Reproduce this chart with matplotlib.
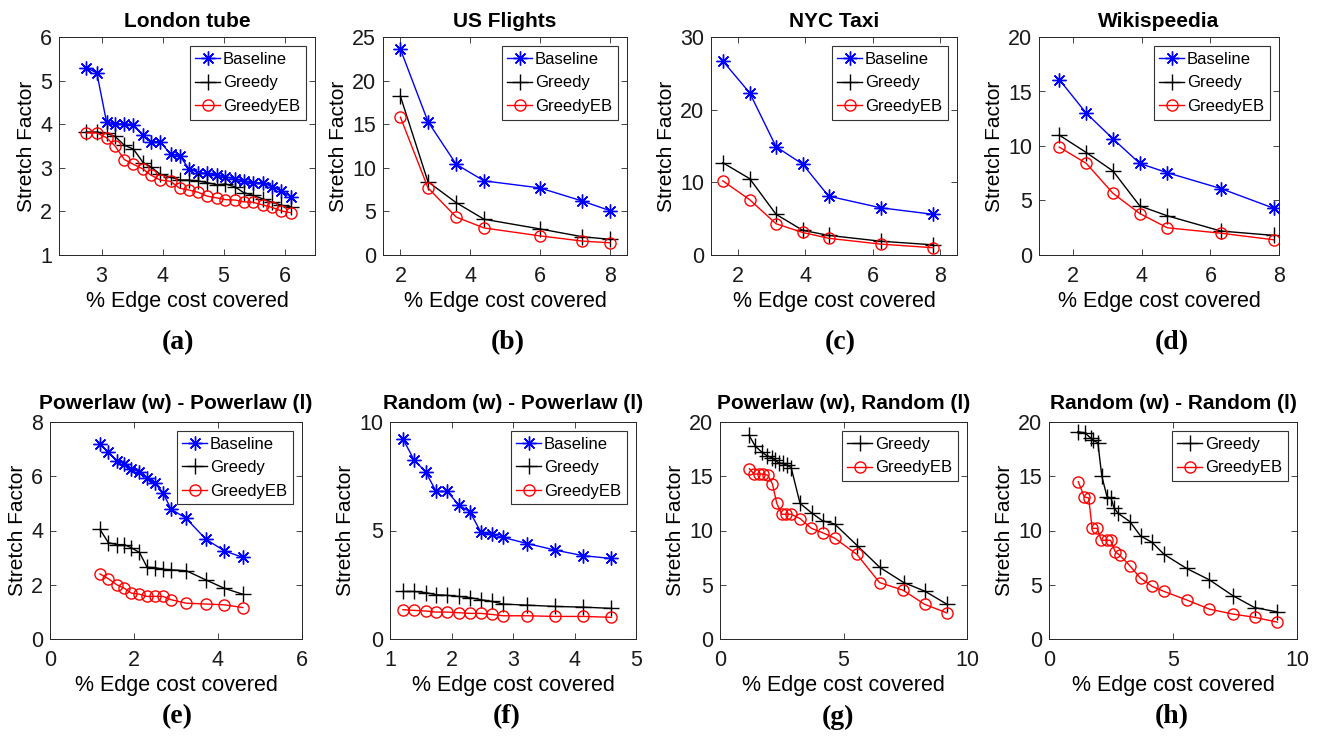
import matplotlib
matplotlib.use("Agg")
import matplotlib.pyplot as plt

plt.rcParams['font.family'] = ['Liberation Sans', 'DejaVu Sans']

# ---------------- data ----------------
titles = ["London tube", "US Flights", "NYC Taxi", "Wikispeedia",
          "Powerlaw (w) - Powerlaw (l)", "Random (w) - Powerlaw (l)",
          "Powerlaw (w), Random (l)", "Random (w) - Random (l)"]
sublabels = ["(a)", "(b)", "(c)", "(d)", "(e)", "(f)", "(g)", "(h)"]
series_names = ["Baseline", "Greedy", "GreedyEB"]

london_x = [2.75, 2.92, 3.08, 3.22, 3.37, 3.52, 3.68, 3.81, 3.96, 4.13, 4.28, 4.43,
            4.58, 4.73, 4.89, 5.03, 5.19, 5.33, 5.48, 5.64, 5.80, 5.95, 6.10]
london_base = [5.29, 5.18, 4.05, 4.01, 4.01, 3.99, 3.75, 3.60, 3.60, 3.31, 3.28, 2.98,
               2.89, 2.87, 2.83, 2.79, 2.75, 2.69, 2.66, 2.66, 2.56, 2.47, 2.34]
london_greedy = [3.82, 3.82, 3.79, 3.72, 3.52, 3.43, 3.12, 3.02, 2.85, 2.79, 2.72, 2.72,
                 2.70, 2.66, 2.61, 2.63, 2.56, 2.43, 2.37, 2.29, 2.21, 2.14, 2.11]
london_eb = [3.80, 3.80, 3.69, 3.50, 3.19, 3.08, 2.97, 2.83, 2.72, 2.69, 2.53, 2.49,
             2.44, 2.35, 2.31, 2.27, 2.26, 2.22, 2.21, 2.15, 2.09, 2.01, 1.97]

flights_x = [2.0, 2.79, 3.60, 4.40, 5.99, 7.21, 8.0]
flights_base = [23.6, 15.3, 10.4, 8.5, 7.7, 6.2, 5.1]
flights_greedy = [18.2, 8.4, 6.0, 4.1, 3.0, 2.1, 1.8]
flights_eb = [15.8, 7.7, 4.35, 3.1, 2.2, 1.6, 1.4]

taxi_x = [1.55, 2.35, 3.13, 3.92, 4.69, 6.23, 7.79]
taxi_base = [26.7, 22.3, 14.9, 12.5, 8.1, 6.5, 5.6]
taxi_greedy = [12.7, 10.5, 5.6, 3.4, 2.7, 1.9, 1.4]
taxi_eb = [10.2, 7.6, 4.3, 3.1, 2.3, 1.5, 1.0]

wiki_x = [1.59, 2.38, 3.16, 3.94, 4.74, 6.30, 7.84]
wiki_base = [16.1, 13.0, 10.65, 8.4, 7.55, 6.1, 4.3]
wiki_greedy = [11.0, 9.4, 7.7, 4.5, 3.6, 2.2, 1.8]
wiki_eb = [9.9, 8.4, 5.65, 3.8, 2.5, 2.0, 1.4]

pp_x = [1.19, 1.39, 1.59, 1.77, 1.94, 2.13, 2.31, 2.50, 2.69, 2.88, 3.24, 3.71, 4.15, 4.59]
pp_base = [7.18, 6.88, 6.56, 6.47, 6.27, 6.16, 5.93, 5.74, 5.39, 4.79, 4.45, 3.68, 3.25, 3.01]
pp_greedy = [4.04, 3.55, 3.48, 3.48, 3.36, 3.19, 2.65, 2.63, 2.57, 2.55, 2.52, 2.18, 1.87, 1.65]
pp_eb = [2.40, 2.22, 2.00, 1.87, 1.69, 1.65, 1.57, 1.57, 1.57, 1.45, 1.32, 1.29, 1.26, 1.16]

rp_x = [1.21, 1.39, 1.58, 1.75, 1.93, 2.12, 2.30, 2.48, 2.66, 2.84, 3.23, 3.68, 4.14, 4.60]
rp_base = [9.22, 8.26, 7.70, 6.80, 6.80, 6.17, 5.86, 4.91, 4.82, 4.68, 4.40, 4.10, 3.84, 3.71]
rp_greedy = [2.19, 2.19, 2.14, 2.04, 2.01, 1.96, 1.91, 1.81, 1.73, 1.61, 1.56, 1.50, 1.47, 1.41]
rp_eb = [1.35, 1.32, 1.29, 1.24, 1.24, 1.21, 1.18, 1.18, 1.13, 1.07, 1.07, 1.04, 1.04, 1.00]

pr_x = [1.17, 1.42, 1.70, 1.90, 2.10, 2.23, 2.39, 2.55, 2.71, 2.88, 3.24, 3.72, 4.15,
        4.64, 5.56, 6.47, 7.44, 8.30, 9.19]
pr_greedy = [18.8, 17.8, 17.2, 16.9, 16.7, 16.5, 16.2, 16.2, 16.0, 15.8, 12.5, 11.6, 10.9,
             10.6, 8.6, 6.6, 5.2, 4.4, 3.2]
pr_x_eb = [1.19, 1.38, 1.57, 1.76, 1.93, 2.12, 2.30, 2.50, 2.69, 2.88, 3.24, 3.70, 4.15,
           4.64, 5.54, 6.46, 7.41, 8.28, 9.19]
pr_eb = [15.7, 15.2, 15.2, 15.2, 15.1, 14.3, 12.5, 11.5, 11.5, 11.5, 11.1, 10.2, 9.8,
         9.3, 7.8, 5.2, 4.5, 3.2, 2.4]

rr_x = [1.16, 1.45, 1.69, 1.78, 1.97, 2.13, 2.34, 2.50, 2.62, 2.78, 3.27, 3.69, 4.16,
        4.64, 5.55, 6.47, 7.41, 8.29, 9.19]
rr_greedy = [19.1, 19.0, 18.5, 18.3, 18.1, 15.0, 13.1, 13.0, 12.1, 11.6, 10.8, 9.5, 8.9,
             7.8, 6.5, 5.45, 4.0, 2.9, 2.5]
rr_x_eb = [1.18, 1.42, 1.60, 1.74, 1.94, 2.11, 2.32, 2.48, 2.67, 2.86, 3.26, 3.69, 4.16,
           4.62, 5.55, 6.47, 7.41, 8.29, 9.21]
rr_eb = [14.5, 13.1, 13.0, 10.2, 10.2, 9.1, 9.1, 9.1, 8.05, 7.7, 6.75, 5.6, 4.85,
         4.4, 3.6, 2.75, 2.3, 2.0, 1.55]

xlims = [(2.3, 6.5), (1.5, 8.5), (1.2, 8.5), (1.0, 8.0), (0, 6), (1, 5), (0, 10), (0, 10)]
ylims = [(1, 6), (0, 25), (0, 30), (0, 20), (0, 8), (0, 10), (0, 20), (0, 20)]
xticks = [[3, 4, 5, 6], [2, 4, 6, 8], [2, 4, 6, 8], [2, 4, 6, 8], [0, 2, 4, 6],
          [1, 2, 3, 4, 5], [0, 5, 10], [0, 5, 10]]
yticks = [[1, 2, 3, 4, 5, 6], [0, 5, 10, 15, 20, 25], [0, 10, 20, 30], [0, 5, 10, 15, 20],
          [0, 2, 4, 6, 8], [0, 5, 10], [0, 5, 10, 15, 20], [0, 5, 10, 15, 20]]

panels = [
    [(london_x, london_base, 0), (london_x, london_greedy, 1), (london_x, london_eb, 2)],
    [(flights_x, flights_base, 0), (flights_x, flights_greedy, 1), (flights_x, flights_eb, 2)],
    [(taxi_x, taxi_base, 0), (taxi_x, taxi_greedy, 1), (taxi_x, taxi_eb, 2)],
    [(wiki_x, wiki_base, 0), (wiki_x, wiki_greedy, 1), (wiki_x, wiki_eb, 2)],
    [(pp_x, pp_base, 0), (pp_x, pp_greedy, 1), (pp_x, pp_eb, 2)],
    [(rp_x, rp_base, 0), (rp_x, rp_greedy, 1), (rp_x, rp_eb, 2)],
    [(pr_x, pr_greedy, 1), (pr_x_eb, pr_eb, 2)],
    [(rr_x, rr_greedy, 1), (rr_x_eb, rr_eb, 2)],
]

# ---------------- styles ----------------
W, H = 1317, 740
styles = [
    dict(color=(0, 0, 1), marker=(8, 2, 0), markersize=10, mew=1.0),
    dict(color='black', marker='+', markersize=11, mew=1.0),
    dict(color=(1, 0, 0), marker='o', markersize=8, mew=1.0, markerfacecolor='none'),
]
# axes boxes in pixels: left, right, top, bottom
boxes = [(59, 315, 37, 255), (383, 627, 37, 255), (711, 957, 37, 255), (1039, 1279, 37, 255),
         (50, 302, 422, 639), (390, 636, 422, 639), (720, 967, 422, 639), (1049, 1297, 422, 639)]
sub_pos = [(178, 343), (508, 343), (840, 343), (1172, 343),
           (177, 717), (507, 717), (838, 717), (1172, 717)]

fig = plt.figure(figsize=(W / 100, H / 100), dpi=100)
axc = (0.15, 0.15, 0.15)

for i in range(8):
    l, r, t, b = boxes[i]
    ax = fig.add_axes([l / W, 1 - b / H, (r - l) / W, (b - t) / H])
    for xs, ys, k in panels[i]:
        ax.plot(xs, ys, linewidth=1.0, label=series_names[k], **styles[k])
    ax.set_xlim(*xlims[i])
    ax.set_ylim(*ylims[i])
    ax.set_xticks(xticks[i])
    ax.set_yticks(yticks[i])
    ax.tick_params(direction='in', top=True, right=True, length=4, width=0.6,
                   labelsize=15.5, colors=axc, labelcolor='#1a1a1a')
    ax.tick_params(axis='x', pad=8)
    ax.tick_params(axis='y', pad=5)
    for s in ax.spines.values():
        s.set_color(axc)
        s.set_linewidth(0.7)
    ax.set_title(titles[i], fontsize=15, fontweight='bold', pad=7 if i < 4 else 9)
    ax.set_xlabel("% Edge cost covered", fontsize=15.5, labelpad=3)
    ax.set_ylabel("Stretch Factor", fontsize=15, labelpad=3)
    leg = ax.legend(loc='upper right', fontsize=12, frameon=True, fancybox=False,
                    edgecolor='#333333', framealpha=1, borderaxespad=0.55,
                    handlelength=1.5, handletextpad=0.15, labelspacing=0.5,
                    borderpad=0.35)
    leg.get_frame().set_linewidth(0.8)
    fig.text(sub_pos[i][0] / W, 1 - sub_pos[i][1] / H, sublabels[i],
             fontsize=20, fontweight='bold', family='Liberation Serif',
             ha='center', va='center')

fig.savefig("out.png", dpi=100)
